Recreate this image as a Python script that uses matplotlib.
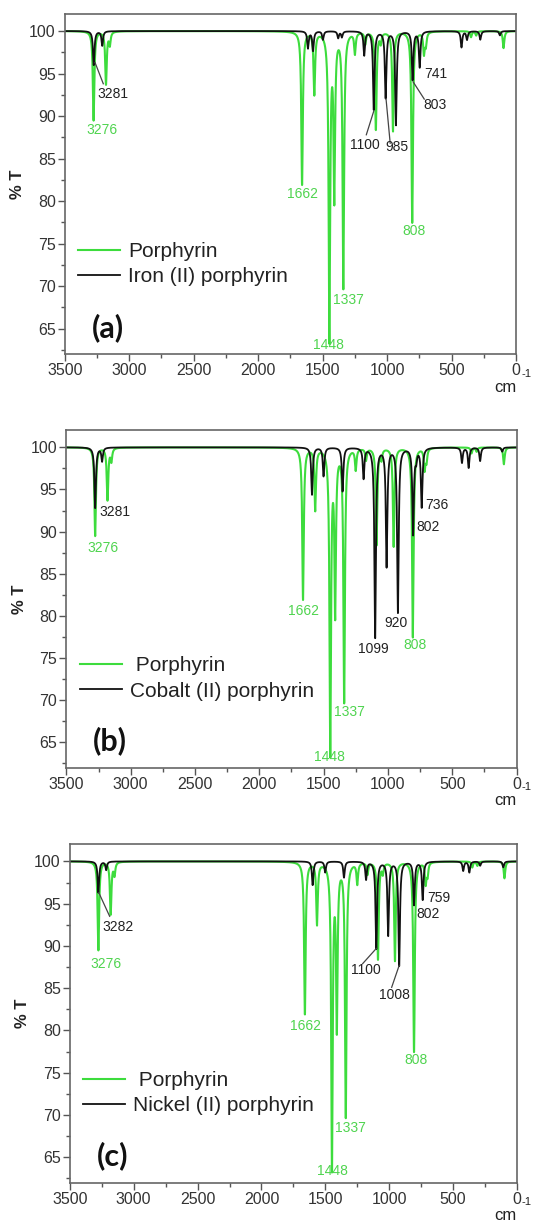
import matplotlib
matplotlib.use("Agg")
import matplotlib.pyplot as plt
import numpy as np

plt.rcParams['font.family'] = ['Liberation Sans', 'DejaVu Sans']

# ---------------------------------------------------------------------------
# Data: IR peaks as (wavenumber cm-1, minimum %T)
# ---------------------------------------------------------------------------
porph_pos = [3276, 3180, 3150, 1660, 1565, 1448, 1410, 1340, 1250, 1170, 1088,
             1050, 955, 806, 715, 700, 350, 310, 98]
porph_min = [89.5, 93.8, 98.5, 82.0, 92.7, 64.0, 81.0, 70.0, 97.5, 98.6, 88.5,
             98.8, 88.3, 77.5, 97.5, 98.5, 99.3, 99.5, 98.0]

iron_pos = [3275, 3209, 1614, 1575, 1498, 1380, 1351, 1178, 1104, 1012, 932,
            803, 748, 424, 381, 278, 126]
iron_min = [96.0, 98.3, 98.0, 97.7, 99.0, 99.2, 99.3, 97.2, 90.8, 92.2, 89.0,
            94.3, 95.8, 98.1, 99.0, 99.0, 99.5]

cobalt_pos = [3276, 3222, 1590, 1500, 1352, 1189, 1099, 1010, 922, 804, 780,
              737, 424, 372, 283, 111]
cobalt_min = [92.8, 98.4, 94.4, 96.6, 94.8, 96.4, 77.5, 86.0, 80.5, 89.8, 98.8,
              93.0, 98.2, 97.6, 98.4, 99.5]

nickel_pos = [3276, 3215, 1599, 1501, 1354, 1181, 1101, 1008, 922, 806, 738,
              421, 373, 288, 107]
nickel_min = [96.3, 99.0, 97.2, 98.7, 98.1, 97.9, 89.7, 91.3, 87.7, 94.9, 95.5,
              98.9, 98.7, 99.5, 99.3]

metal_names = ['Iron (II) porphyrin', 'Cobalt (II) porphyrin', 'Nickel (II) porphyrin']
porph_names = ['Porphyrin', ' Porphyrin', ' Porphyrin']
panel_tags = ['(a)', '(b)', '(c)']

# peak labels: (text, wavenumber, %T, colour key)
labels_a = [('3276', 3215, 88.4, 'g'), ('3281', 3126, 92.6, 'k'),
            ('1662', 1658, 80.8, 'g'), ('1448', 1453, 63.1, 'g'),
            ('1337', 1302, 68.4, 'g'), ('1100', 1170, 86.6, 'k'),
            ('985', 925, 86.4, 'k'), ('808', 792, 76.5, 'g'),
            ('803', 626, 91.3, 'k'), ('741', 626, 95.0, 'k')]
labels_b = [('3276', 3214, 88.0, 'g'), ('3281', 3121, 92.3, 'k'),
            ('1662', 1660, 80.6, 'g'), ('1448', 1453, 63.3, 'g'),
            ('1337', 1303, 68.6, 'g'), ('1099', 1112, 76.1, 'k'),
            ('920', 937, 79.1, 'k'), ('808', 792, 76.6, 'g'),
            ('802', 686, 90.5, 'k'), ('736', 620, 93.1, 'k')]
labels_c = [('3276', 3220, 87.9, 'g'), ('3282', 3119, 92.2, 'k'),
            ('1662', 1655, 80.5, 'g'), ('1448', 1447, 63.4, 'g'),
            ('1337', 1301, 68.5, 'g'), ('1100', 1186, 87.1, 'k'),
            ('1008', 962, 84.2, 'k'), ('808', 794, 76.5, 'g'),
            ('802', 693, 93.8, 'k'), ('759', 613, 95.7, 'k')]

# leader lines (x1, T1, x2, T2)
leaders_a = [(3265, 96.3, 3201, 93.8), (1162, 87.8, 1104, 90.6),
             (977, 86.8, 1009, 92.0), (713, 92.0, 798, 94.0)]
leaders_b = []
leaders_c = [(3188, 93.5, 3273, 96.3), (1208, 87.9, 1101, 89.7),
             (981, 85.1, 922, 87.7)]

GREEN = '#3ddc3d'
GREEN_TXT = '#4fd44f'
BLACK = '#111111'
HWHM = 7.0

wn = np.linspace(0, 3500, 14001)


def spectrum(pos, tmin):
    t = np.full_like(wn, 100.0)
    for p, m in zip(pos, tmin):
        t -= (100.0 - m) / (1.0 + ((wn - p) / HWHM) ** 2)
    return t


metals = [(iron_pos, iron_min), (cobalt_pos, cobalt_min), (nickel_pos, nickel_min)]
all_labels = [labels_a, labels_b, labels_c]
all_leaders = [leaders_a, leaders_b, leaders_c]

fig = plt.figure(figsize=(5.34, 12.23), dpi=100)
rects = [[0.1212, 0.7105, 0.8455, 0.278],
         [0.1243, 0.3724, 0.8430, 0.2756],
         [0.1307, 0.0331, 0.8375, 0.2764]]

porph_T = spectrum(porph_pos, porph_min)

for i in range(3):
    ax = fig.add_axes(rects[i])
    metal_T = spectrum(*metals[i])
    ax.plot(wn, porph_T, color=GREEN, lw=1.5, label=porph_names[i])
    ax.plot(wn, metal_T, color=BLACK, lw=1.3, label=metal_names[i])

    ax.set_xlim(3500, 0)
    ax.set_ylim(62, 102)
    ax.set_xticks(np.arange(3500, -1, -500))
    ax.set_xticks(np.arange(3250, 0, -500), minor=True)
    ax.set_yticks(np.arange(65, 101, 5))
    ax.set_yticks(np.arange(62.5, 101, 5), minor=True)
    ax.tick_params(which='major', direction='out', length=5, width=1,
                   color='#555555', labelsize=11.5, labelcolor='#333333', pad=1.5)
    ax.tick_params(which='minor', direction='out', length=3, width=1,
                   color='#555555')
    for s in ax.spines.values():
        s.set_color('#666666')
        s.set_linewidth(1.2)

    ax.set_ylabel('% T', fontsize=12, fontweight='bold', color='#222222', labelpad=3)

    for txt, x, y, c in all_labels[i]:
        ax.text(x, y, txt, fontsize=10, ha='center', va='center',
                color=GREEN_TXT if c == 'g' else '#222222')
    for x1, y1, x2, y2 in all_leaders[i]:
        ax.plot([x1, x2], [y1, y2], color='#444444', lw=0.9)

    leg = ax.legend(loc='upper left', bbox_to_anchor=(0.03, 0.33), frameon=False,
                    fontsize=15, handlelength=2.0, handletextpad=0.4,
                    labelspacing=0.3, borderpad=0, borderaxespad=0)
    for t in leg.get_texts():
        t.set_color('#222222')

    ax.text(0.096, 0.079, panel_tags[i], transform=ax.transAxes, fontsize=22,
            fontweight='bold', ha='center', va='center', color='#111111',
            family=['Lato', 'DejaVu Sans'])
    ax.text(0.975, -0.098, 'cm', transform=ax.transAxes, fontsize=12,
            ha='center', va='center', color='#222222')
    ax.text(1.022, -0.058, '-1', transform=ax.transAxes, fontsize=8,
            ha='center', va='center', color='#222222')

fig.savefig('out.png', dpi=100)
